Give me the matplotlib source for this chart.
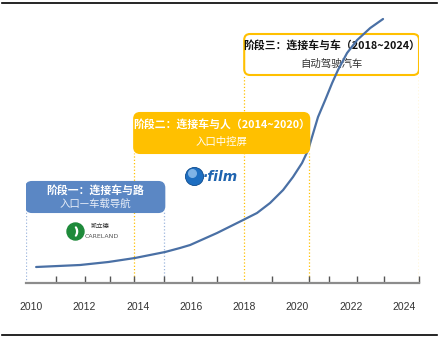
import matplotlib
matplotlib.use("Agg")
import matplotlib.pyplot as plt
from matplotlib.patches import FancyBboxPatch
from matplotlib.lines import Line2D

plt.rcParams["font.family"] = ["Noto Sans CJK SC", "DejaVu Sans"]

# curve (year, relative level)
curve_years = [2010.19, 2011.84, 2012.90, 2013.90, 2015.03, 2015.59, 2015.97, 2016.98,
               2017.96, 2018.48, 2018.97, 2019.46, 2019.83, 2020.17, 2020.40, 2020.59,
               2020.77, 2021.04, 2021.30, 2021.52, 2021.86, 2022.24, 2022.73, 2023.21]
curve_level = [16, 18, 21, 25, 31, 35, 38, 50,
               63, 70, 80, 93, 106, 120, 133, 150,
               166, 183, 200, 213, 230, 243, 255, 264]

year_labels = [2010, 2012, 2014, 2016, 2018, 2020, 2022, 2024]
tick_marks = [2010.93, 2012.03, 2012.97, 2013.87, 2014.99, 2016.04, 2016.98, 2018.0,
              2019.05, 2020.43, 2021.19, 2022.24, 2023.25, 2024.56]

stage_titles = ["阶段一：连接车与路", "阶段二：连接车与人（2014~2020）", "阶段三：连接车与车（2018~2024）"]
stage_subtitles = ["入口—车载导航", "入口中控屏", "自动驾驶汽车"]
stage_start = [2009.81, 2013.87, 2018.0]
stage_end = [2015.0, 2020.44, 2024.56]

BLUE = "#5b87c4"
YELLOW = "#ffc000"
LINE = "#4a70a5"
PX_PER_YEAR = 26.64

fig = plt.figure(figsize=(4.42, 3.4), dpi=100)
ax = fig.add_axes([26 / 442, 57 / 340, 393 / 442, 273 / 340])
ax.set_xlim(stage_start[0], stage_end[2])
ax.set_ylim(0, 273)

for s in ("top", "right", "left"):
    ax.spines[s].set_visible(False)
ax.spines["bottom"].set_color("#8c8c8c")
ax.spines["bottom"].set_linewidth(1.6)
ax.set_yticks([])
ax.set_xticks(year_labels)
ax.set_xticklabels([str(y) for y in year_labels], family="Liberation Sans",
                   fontsize=7.5, color="#333333")
ax.tick_params(axis="x", which="major", length=0, pad=14)
ax.set_xticks(tick_marks, minor=True)
ax.tick_params(axis="x", which="minor", direction="in", length=5, width=1, color="#555555")

# box layout (bottom, top, style) per stage
boxes = [(71, 101, "fill_blue"), (130, 170, "fill_yellow"), (208, 249, "outline")]
for i, (b, t, style) in enumerate(boxes):
    x0, x1 = stage_start[i], stage_end[i]
    if style == "fill_blue":
        fc, ec, vc, tc, sc = BLUE, BLUE, "#9db6dd", "white", "#e8eef8"
    elif style == "fill_yellow":
        fc, ec, vc, tc, sc = YELLOW, YELLOW, YELLOW, "white", "white"
    else:
        fc, ec, vc, tc, sc = "white", YELLOW, YELLOW, "#111111", "#333333"
    patch = FancyBboxPatch((x0, b), x1 - x0, t - b,
                           boxstyle="round,pad=0,rounding_size=0.22",
                           mutation_aspect=PX_PER_YEAR, fc=fc, ec=ec, lw=1.5,
                           zorder=6 if style != "outline" else 1)
    ax.add_patch(patch)
    for xv in (x0, x1):
        ax.plot([xv, xv], [0, b], color=vc, lw=0.9, ls=":", zorder=1)
    xc = (x0 + x1) / 2
    z = 7 if style != "outline" else 2
    ax.text(xc, b + (t - b) * 0.73, stage_titles[i], ha="center", va="center",
            fontsize=7.8, fontweight="bold", color=tc, zorder=z)
    ax.text(xc, b + (t - b) * 0.27, stage_subtitles[i], ha="center", va="center",
            fontsize=7.5, color=sc, zorder=z)

ax.plot(curve_years, curve_level, color=LINE, lw=1.6, zorder=5, clip_on=False,
        solid_capstyle="round", solid_joinstyle="round")

# CareLand logo
ax.scatter([2011.65], [52], s=150, color="#1e8a3a", zorder=3)
ax.scatter([2011.70], [52], s=40, color="white", marker=r"$)$", zorder=4)
ax.text(2012.22, 57, "凯立德", fontsize=4.5, color="#333333", va="center", zorder=3)
ax.text(2012.0, 46, "CARELAND", fontsize=4.5, family="DejaVu Sans", color="#555555",
        va="center", zorder=3)

# i-film logo
ax.scatter([2016.12], [107], s=170, color="#1d6ec1", edgecolors="#0d4a8c", lw=0.6, zorder=3)
ax.scatter([2016.05], [110], s=30, color="#7fb3e6", zorder=4)
ax.text(2016.43, 106, "·film", fontsize=10, family="DejaVu Sans", fontweight="bold",
        fontstyle="italic", color="#1f64b0", va="center", zorder=3)

# frame lines top and bottom
fig.add_artist(Line2D([2 / 442, 437 / 442], [1 - 3 / 340, 1 - 3 / 340], color="black", lw=1.2))
fig.add_artist(Line2D([2 / 442, 437 / 442], [1 - 335 / 340, 1 - 335 / 340], color="black", lw=1.2))

fig.savefig("out.png", dpi=100)
